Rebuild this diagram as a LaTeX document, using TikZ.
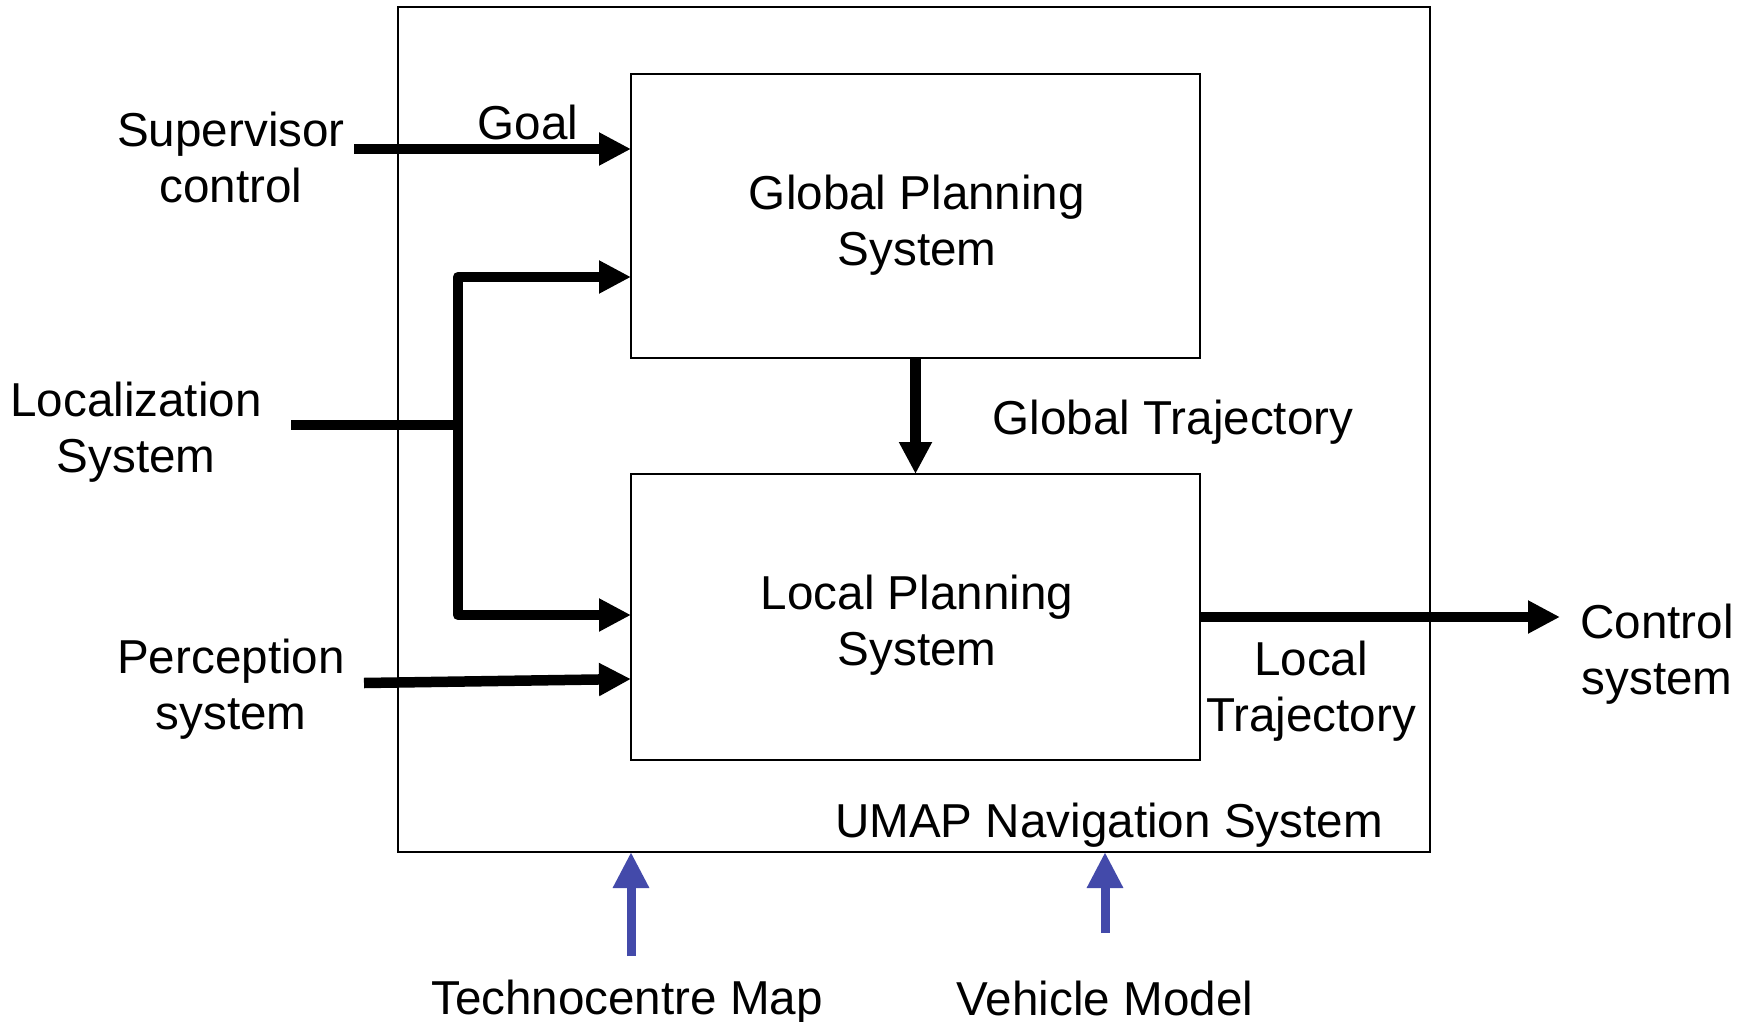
\documentclass[tikz,border=0pt]{standalone}
\usepackage{fontspec}
\setmainfont{Liberation Sans}
\usetikzlibrary{arrows.meta}
\definecolor{inblue}{RGB}{67,74,170}
\begin{document}
\begin{tikzpicture}[x=1pt,y=-1pt,
  lbl/.style={font=\fontsize{47.6}{56}\selectfont, align=center, inner sep=0pt},
  blockbox/.style={draw, line width=2pt, outer sep=0pt, inner sep=0pt},
  flow/.style={line width=10.5pt, -{Triangle[length=32pt,width=31pt]}},
  feed/.style={line width=9pt, draw=inblue, -{Triangle[length=36pt,width=34pt,fill=inblue]}},
]
\useasboundingbox (0,0) rectangle (1750,1022);

% system boundary and the two planners
\node[blockbox, minimum width=1032pt, minimum height=845pt] (umap) at (914,429.5) {};
\node[blockbox, minimum width=569pt, minimum height=284pt] (gl) at (915.5,216) {};
\node[blockbox, minimum width=569pt, minimum height=286pt] (lp) at (915.5,617) {};

% labels
\node[lbl] (gltxt) at (917,225) {Global Planning\\System};
\node[lbl] (lptxt) at (917,625) {Local Planning\\System};
\node[lbl] (sup) at (231,157) {Supervisor\\control};
\node[lbl] (loc) at (136,432) {Localization\\System};
\node[lbl] (per) at (231,689) {Perception\\system};
\node[lbl] (ctl) at (1657,654) {Control\\system};
\node[lbl] (goal) at (528,122) {Goal};
\node[lbl] (gtraj) at (1173,422) {Global Trajectory};
\node[lbl] (ltraj) at (1311,691) {Local\\Trajectory};
\node[lbl] (umaptxt) at (1109,825) {UMAP Navigation System};
\node[lbl] (map) at (627,1002) {Technocentre Map};
\node[lbl] (veh) at (1105,998) {Vehicle Model};

% connector end points
\coordinate (supstart) at (354,149);
\coordinate (locstart) at (291,425);
\coordinate (locup) at (458,277);
\coordinate (locdown) at (458,615);
\coordinate (perstart) at (364,683);
\coordinate (perend) at (631,679);
\coordinate (ctlend) at (1560,617);
\coordinate (mapstart) at (631,956);
\coordinate (vehstart) at (1105,933);

% inputs
\draw[flow] (supstart) -- (gl.west |- supstart);
\draw[line width=10.5pt] (locstart) -- (locup |- locstart);
\draw[line width=10.5pt, line join=round,
  {Triangle[length=32pt,width=31pt]}-{Triangle[length=32pt,width=31pt]}]
  (gl.west |- locup) -- (locup) -- (locdown) -- (lp.west |- locdown);
\draw[flow] (perstart) -- (lp.west |- perend);

% internal and output flows
\draw[flow] (gl.south) -- (lp.north);
\draw[flow] (lp.east |- ctlend) -- (ctlend);

% map and vehicle model feeds
\draw[feed] (mapstart) -- (umap.south -| mapstart);
\draw[feed] (vehstart) -- (umap.south -| vehstart);
\end{tikzpicture}
\end{document}
